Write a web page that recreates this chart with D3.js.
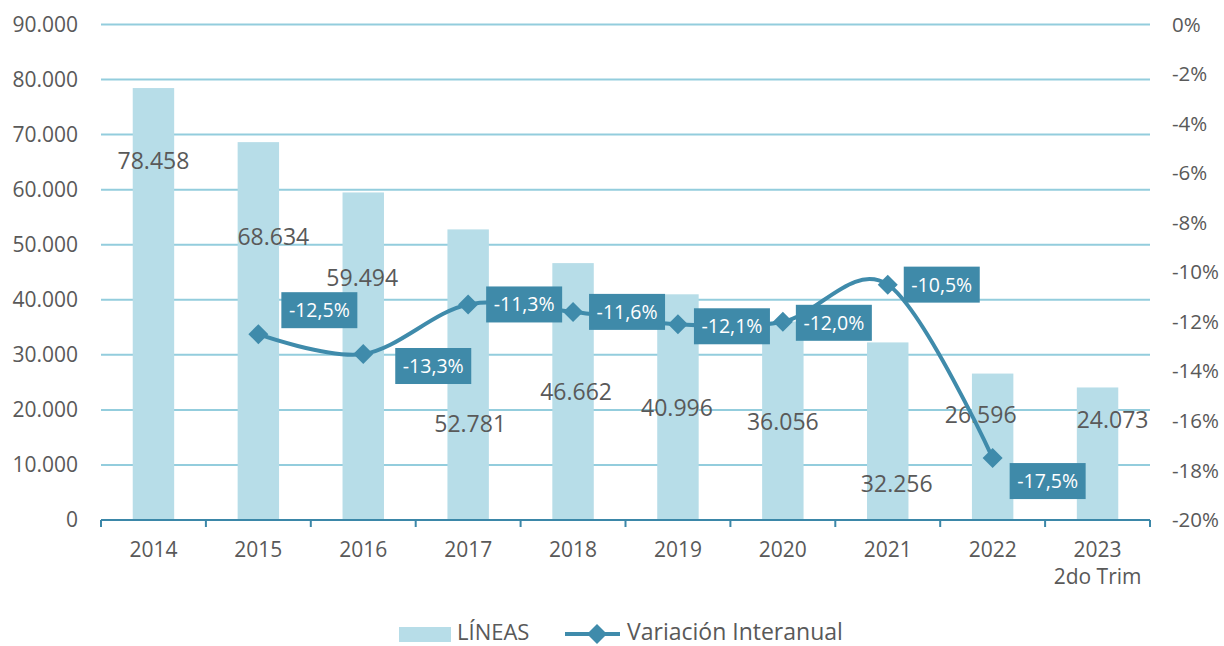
<!DOCTYPE html>
<html><head><meta charset="utf-8">
<script src="https://cdn.jsdelivr.net/npm/d3@7"></script>
<style>
html,body{margin:0;padding:0;background:#fff;}
svg{display:block;font-family:"Open Sans",sans-serif;}
</style></head>
<body><svg id="c" width="1224" height="646"></svg>
<script>
// ---- data ----
const categories = ["2014","2015","2016","2017","2018","2019","2020","2021","2022","2023\n2do Trim"];
const lineas = [78458,68634,59494,52781,46662,40996,36056,32256,26596,24073];
const variacion = [null,-12.5,-13.3,-11.3,-11.6,-12.1,-12.0,-10.5,-17.5,null];
const leftTicks = [0,10000,20000,30000,40000,50000,60000,70000,80000,90000];
const rightTicks = [0,-2,-4,-6,-8,-10,-12,-14,-16,-18,-20];
const seriesNames = ["LÍNEAS","Variación Interanual"];

// ---- layout (label placement, px) ----
const barLabelPos = [[0,161],[15,237],[-1,278],[2,424],[3,392],[-1,408],[0,422],[9,484],[-12,415],[15,420]];
const lineLabelOff = [null,[61,-24],[70,12],[56,0],[54,0],[54,2],[51,1],[54,0],[55,23],null];

const svg = d3.select("#c");
const fmtN = d3.formatLocale({decimal:",",thousands:".",grouping:[3],currency:["","€"]});
const fmtInt = fmtN.format(",d");
const fmtPct = v => (v.toFixed(1)).replace(".",",") + "%";

const X0 = 101, X1 = 1150, Y0 = 520, Y1 = 24.5;
const x = d3.scaleBand().domain(categories).range([X0,X1]).paddingInner(0).paddingOuter(0);
const yL = d3.scaleLinear().domain([0,90000]).range([Y0,Y1]);
const yR = d3.scaleLinear().domain([-20,0]).range([Y0,Y1]);

const txt = "#595959", grid = "#93cddd", bar = "#b7dde8", lineC = "#3f8bab", boxC = "#3f8aa9", axisC = "#3b87a8";

// gridlines
svg.append("g").selectAll("line").data(leftTicks.filter(d=>d>0)).join("line")
  .attr("x1",X0).attr("x2",X1).attr("y1",d=>yL(d)).attr("y2",d=>yL(d))
  .attr("stroke",grid).attr("stroke-width",2);

// bars
const bw = x.bandwidth()*0.395;
svg.append("g").selectAll("rect").data(lineas).join("rect")
  .attr("x",(d,i)=>x(categories[i])+x.bandwidth()/2-bw/2)
  .attr("width",bw)
  .attr("y",d=>yL(d)).attr("height",d=>Y0-yL(d))
  .attr("fill",bar);

// left axis labels
const gl = svg.append("g").attr("transform",`translate(${X0},0)`)
  .call(d3.axisLeft(yL).tickValues(leftTicks).tickFormat(fmtInt).tickSize(0).tickPadding(23));
gl.select(".domain").remove();
gl.selectAll("text").attr("fill",txt).style("font-size","21px").style("font-family","'Open Sans'");

// right axis labels
const gr = svg.append("g").attr("transform",`translate(${X1},0)`)
  .call(d3.axisRight(yR).tickValues(rightTicks).tickFormat(d=>d+"%").tickSize(0).tickPadding(22));
gr.select(".domain").remove();
gr.selectAll("text").attr("fill",txt).style("font-size","20.5px").style("font-family","'Open Sans'");

// x axis line and ticks
const gx = svg.append("g");
gx.append("line").attr("x1",X0).attr("x2",X1).attr("y1",Y0).attr("y2",Y0).attr("stroke",axisC).attr("stroke-width",2);
const bounds = categories.map(c=>x(c)).concat([X1]);
gx.selectAll("line.t").data(bounds).join("line").attr("class","t")
  .attr("x1",d=>d).attr("x2",d=>d).attr("y1",Y0).attr("y2",Y0+7).attr("stroke",axisC).attr("stroke-width",2);
gx.selectAll("text").data(categories).join("text")
  .attr("text-anchor","middle").attr("fill",txt).style("font-size","21px")
  .each(function(d){
    const lines = d.split("\n");
    const t = d3.select(this);
    lines.forEach((l,k)=>{
      t.append("tspan").attr("x",x(d)+x.bandwidth()/2).attr("y",557+k*27).text(l);
    });
  });

// bar value labels
svg.append("g").selectAll("text").data(lineas).join("text")
  .attr("x",(d,i)=>x(categories[i])+x.bandwidth()/2+barLabelPos[i][0])
  .attr("y",(d,i)=>barLabelPos[i][1]).attr("dy","0.36em")
  .attr("text-anchor","middle").attr("fill",txt).style("font-size","23px")
  .text(d=>fmtInt(d));

// line series
const pts = variacion.map((v,i)=>({v,i,cx:x(categories[i])+x.bandwidth()/2})).filter(d=>d.v!==null);
svg.append("path").datum(pts)
  .attr("d",d3.line().x(d=>d.cx).y(d=>yR(d.v)).curve(d3.curveCatmullRom.alpha(0)))
  .attr("fill","none").attr("stroke",lineC).attr("stroke-width",4);
svg.append("g").selectAll("path").data(pts).join("path")
  .attr("d",d3.symbol(d3.symbolSquare,200)).attr("transform",d=>`translate(${d.cx},${yR(d.v)}) rotate(45)`)
  .attr("fill",lineC);

// line labels
const lg = svg.append("g").selectAll("g").data(pts).join("g")
  .attr("transform",d=>`translate(${d.cx+lineLabelOff[d.i][0]},${yR(d.v)+lineLabelOff[d.i][1]})`);
lg.append("rect").attr("x",-38).attr("y",-18).attr("width",76).attr("height",36).attr("fill",boxC);
lg.append("text").attr("text-anchor","middle").attr("dy","0.36em").attr("fill","#fff")
  .style("font-size","19.5px").text(d=>fmtPct(d.v));

// legend
const leg = svg.append("g");
leg.append("rect").attr("x",399).attr("y",627).attr("width",52).attr("height",15).attr("fill",bar);
leg.append("text").attr("x",457).attr("y",640).attr("fill",txt).style("font-size","22px").text(seriesNames[0]);
leg.append("line").attr("x1",565).attr("x2",620).attr("y1",634).attr("y2",634).attr("stroke",lineC).attr("stroke-width",4);
leg.append("path").attr("d",d3.symbol(d3.symbolSquare,200)).attr("transform","translate(597,634) rotate(45)").attr("fill",lineC);
leg.append("text").attr("x",627).attr("y",640).attr("fill",txt).style("font-size","23px").text(seriesNames[1]);
</script>
</body></html>
